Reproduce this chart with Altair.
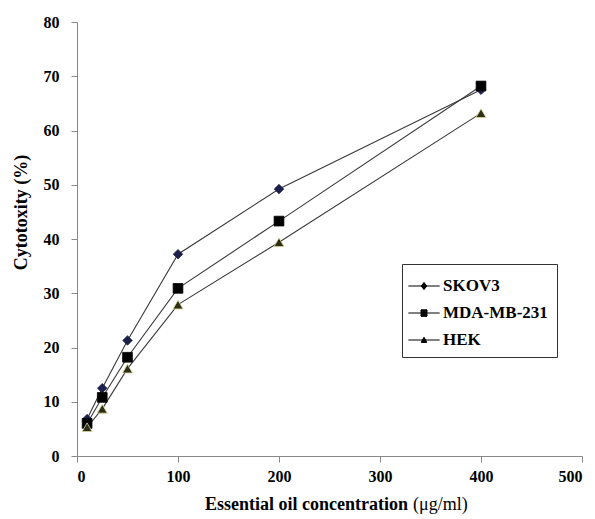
import altair as alt
import pandas as pd

conc = [10, 25, 50, 100, 200, 400]
skov3 = [6.8, 12.5, 21.3, 37.2, 49.2, 67.5]
mda = [6.0, 10.8, 18.2, 30.9, 43.3, 68.2]
hek = [5.3, 8.7, 16.1, 27.9, 39.4, 63.2]
series_names = ["SKOV3", "MDA-MB-231", "HEK"]
x_title_bold = "Essential oil concentration"
x_title_unit = "(μg/ml)"
y_title = "Cytotoxity (%)"

rows = []
for name, vals in zip(series_names, [skov3, mda, hek]):
    for c, v in zip(conc, vals):
        rows.append({"conc": c, "cyto": v, "series": name})
df = pd.DataFrame(rows)

FONT = "Liberation Serif"


def solid(outline, halfwidth, y0, y1, step=0.05):
    """Legend symbol: line stub + outline + horizontal hatching so it reads solid."""
    parts = ["M-1.25,0H1.25", outline]
    n = int(round((y1 - y0) / step))
    for i in range(n + 1):
        yy = y0 + i * step
        w = halfwidth(yy)
        if w > 0:
            parts.append(f"M{-w:.3f},{yy:.3f}H{w:.3f}")
    return "".join(parts)


diamond_path = solid("M0,-0.28L0.22,0L0,0.28L-0.22,0Z",
                     lambda v: 0.22 * (1 - abs(v) / 0.28), -0.28, 0.28)
square_path = solid("M-0.24,-0.24H0.24V0.24H-0.24Z", lambda v: 0.24, -0.24, 0.24)
triangle_path = solid("M0,-0.22L0.22,0.18H-0.22Z",
                      lambda v: 0.22 * (v + 0.22) / 0.4, -0.22, 0.18)
legend_paths = [diamond_path, square_path, triangle_path]

x = alt.X("conc:Q", scale=alt.Scale(domain=[0, 500], nice=False),
          axis=alt.Axis(values=[0, 100, 200, 300, 400, 500], title=None,
                        labelPadding=6))
y = alt.Y("cyto:Q", scale=alt.Scale(domain=[0, 80], nice=False),
          axis=alt.Axis(values=list(range(0, 81, 10)), title=y_title,
                        titlePadding=13, labelPadding=12, titleY=190))

lines = alt.Chart(df).mark_line(color="#3a3a3a", strokeWidth=1.1).encode(
    x=x, y=y, detail="series:N")

points = alt.Chart(df).mark_point(filled=True, opacity=1, strokeWidth=0.8).encode(
    x=x, y=y,
    shape=alt.Shape("series:N", sort=series_names,
                    scale=alt.Scale(domain=series_names,
                                    range=["diamond", "square", "triangle-up"]),
                    legend=None),
    size=alt.Size("series:N", scale=alt.Scale(domain=series_names, range=[90, 100, 75]),
                  legend=None),
    fill=alt.Fill("series:N", scale=alt.Scale(domain=series_names,
                                              range=["#1c1f4a", "#000000", "#2e2e14"]),
                  legend=None),
    stroke=alt.Stroke("series:N", scale=alt.Scale(domain=series_names,
                                                  range=["#1c1f4a", "#000000", "#d8d8a0"]),
                      legend=None),
)

legend_layer = alt.Chart(df).mark_point(
    opacity=0, filled=False, color="black", strokeWidth=1
).encode(
    x=x, y=y,
    shape=alt.Shape("series:N", sort=series_names,
                    scale=alt.Scale(domain=series_names, range=legend_paths),
                    legend=alt.Legend(
                        title=None, orient="none", legendX=325, legendY=242,
                        symbolSize=625, symbolOpacity=1,
                        symbolStrokeColor="black", symbolStrokeWidth=1,
                        labelFont=FONT, labelFontSize=17, labelFontWeight="bold",
                        labelColor="black", labelOffset=6, rowPadding=6,
                        padding=9, strokeColor="#333333", fillColor="white",
                        labelLimit=200)),
)

title_df = pd.DataFrame({"a": [x_title_bold], "b": [x_title_unit]})
title_bold = alt.Chart(title_df).mark_text(
    font=FONT, fontSize=18, fontWeight="bold", color="black",
    align="right", baseline="middle"
).encode(text="a:N", x=alt.value(331), y=alt.value(483))
title_unit = alt.Chart(title_df).mark_text(
    font=FONT, fontSize=18, fontWeight="normal", color="black",
    align="left", baseline="middle"
).encode(text="b:N", x=alt.value(336), y=alt.value(483))

chart = alt.layer(lines, points, legend_layer, title_bold, title_unit).resolve_scale(
    shape="independent"
).properties(
    width=505, height=434,
    padding={"left": 69, "top": 14, "right": 5, "bottom": 62},
    autosize="none",
).configure_view(stroke=None).configure_axis(
    grid=False, domainColor="#888888", tickColor="#888888", tickSize=6,
    labelFont=FONT, labelFontSize=16, labelFontWeight="bold", labelColor="black",
    titleFont=FONT, titleFontSize=18, titleFontWeight="bold", titleColor="black",
)

chart.save("out.html", embed_options={"renderer": "svg", "actions": False})
